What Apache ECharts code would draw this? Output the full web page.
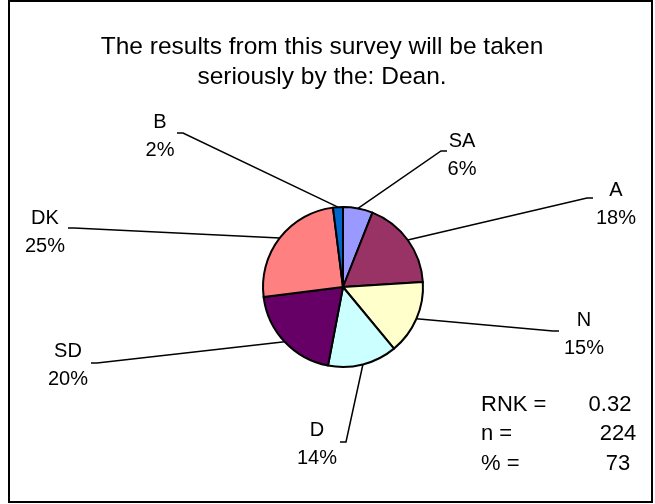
<!DOCTYPE html>
<html><head><meta charset="utf-8">
<script src="https://cdn.jsdelivr.net/npm/echarts@6/dist/echarts.min.js"></script>
<style>html,body{margin:0;padding:0;background:#fff}#c{width:655px;height:504px}</style>
</head><body><div id="c"></div>
<script>
const titleLines = ['The results from this survey will be taken', 'seriously by the: Dean.'];
const categories = ['SA', 'A', 'N', 'D', 'SD', 'DK', 'B'];
const values = [6, 18, 15, 14, 20, 25, 2];
const colors = ['#9999FF', '#993366', '#FFFFCC', '#CCFFFF', '#660066', '#FF8080', '#0066CC'];
const statLabels = ['RNK =', 'n =', '% ='];
const statValues = ['0.32', '224', '73'];

// layout (label block centres, leader-line elbows and ends)
const labelPos = [[462,155],[616,204],[584,334],[317,444],[68,365],[45,232],[160,136]];
const lineElbow = [[441,151],[587,198],[553,331],[346,442],[97,363],[74,228],[183,133]];
const lineEnd = [[447,151],[593,198],[559,331],[340,442],[91,363],[68,228],[177,133]];
const statRowY = [405, 434, 464];
const statValX = [610, 618, 618];

const FONT = '"Liberation Sans", Arial, sans-serif';
const chart = echarts.init(document.getElementById('c'), null, {renderer: 'canvas'});

const graphics = [
  {type: 'rect', shape: {x: 9, y: 1, width: 643, height: 501}, style: {fill: 'none', stroke: '#000', lineWidth: 2}, silent: true},
  {type: 'text', x: 322, y: 47, style: {text: titleLines[0], font: '24.5px ' + FONT, fill: '#000', align: 'center', verticalAlign: 'middle'}},
  {type: 'text', x: 322, y: 77, style: {text: titleLines[1], font: '24.5px ' + FONT, fill: '#000', align: 'center', verticalAlign: 'middle'}}
];
statLabels.forEach((s, i) => {
  graphics.push({type: 'text', x: 481, y: statRowY[i], style: {text: s, font: '22px ' + FONT, fill: '#000', align: 'left', verticalAlign: 'middle'}});
  graphics.push({type: 'text', x: statValX[i], y: statRowY[i], style: {text: statValues[i], font: '22px ' + FONT, fill: '#000', align: 'center', verticalAlign: 'middle'}});
});

chart.setOption({
  animation: false,
  backgroundColor: '#fff',
  graphic: graphics,
  series: [{
    type: 'pie',
    center: [343, 287],
    radius: 80,
    startAngle: 90,
    clockwise: true,
    percentPrecision: 0,
    data: categories.map((c, i) => ({name: c, value: values[i], itemStyle: {color: colors[i]}})),
    itemStyle: {borderColor: '#000', borderWidth: 2},
    label: {
      show: true,
      formatter: '{b}\n{d}%',
      fontFamily: FONT,
      fontSize: 20,
      lineHeight: 28,
      color: '#000',
      align: 'center'
    },
    labelLine: {show: true, length: 20, length2: 10, lineStyle: {color: '#000', width: 1.5}},
    labelLayout: function (p) {
      const i = p.dataIndex;
      const a = p.labelLinePoints ? p.labelLinePoints[0] : lineElbow[i];
      return {
        x: labelPos[i][0], y: labelPos[i][1], align: 'center', verticalAlign: 'middle',
        labelLinePoints: [a, lineElbow[i], lineEnd[i]]
      };
    },
    emphasis: {disabled: true}
  }]
});
</script></body></html>
